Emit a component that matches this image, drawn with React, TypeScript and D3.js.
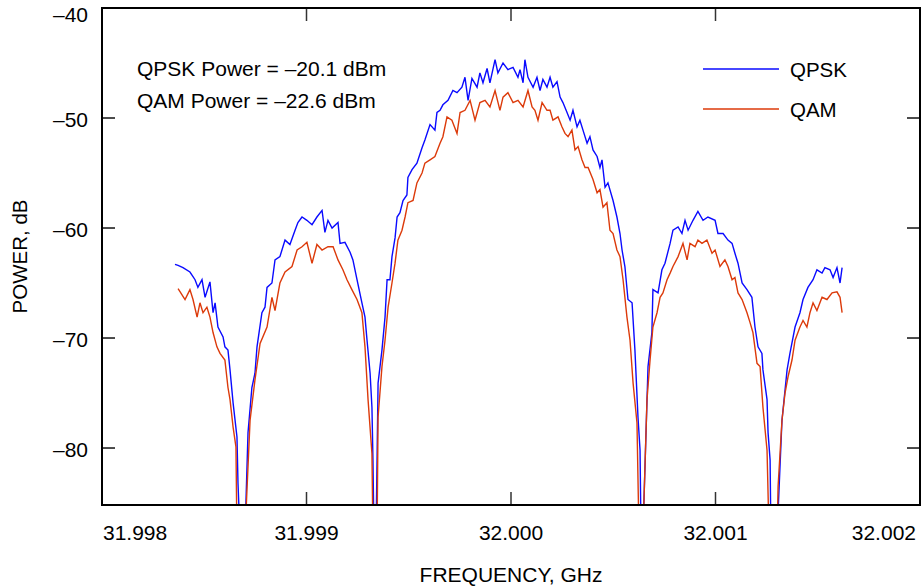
import React from "react";
import * as d3 from "d3";

// Frequency offsets from 32.000 GHz, in kHz, and power in dB
const qpskOffsetKHz = [
  -1643, -1628, -1604, -1570, -1545, -1531, -1511, -1496, -1472, -1457, -1447, -1433, -1408, -1399, -1384, -1374,
  -1359, -1340, -1335, -1325, -1301, -1286, -1267, -1252, -1242, -1218, -1203, -1193, -1169, -1154, -1130, -1105,
  -1081, -1056, -1042, -1022, -998, -973, -949, -924, -910, -895, -875, -846, -836, -812, -787, -773, -753, -729,
  -714, -704, -689, -680, -675, -670, -660, -650, -631, -616, -606, -592, -582, -567, -557, -543, -528, -509, -504,
  -484, -460, -435, -421, -396, -372, -362, -347, -333, -308, -284, -264, -240, -225, -210, -191, -166, -152, -137,
  -117, -103, -78, -64, -39, -15, 10, 34, 44, 59, 68, 83, 108, 127, 142, 156, 176, 191, 205, 225, 240, 254, 274, 289,
  303, 323, 337, 352, 372, 386, 401, 421, 435, 445, 460, 474, 499, 518, 533, 543, 557, 572, 592, 606, 621, 631, 636,
  645, 670, 689, 694, 719, 738, 753, 778, 792, 817, 836, 851, 866, 890, 914, 939, 963, 998, 1012, 1037, 1061, 1081,
  1095, 1110, 1130, 1154, 1178, 1193, 1208, 1227, 1232, 1252, 1257, 1267, 1271, 1301, 1325, 1350, 1364, 1389, 1413,
  1428, 1452, 1477, 1496, 1521, 1535, 1560, 1575, 1594, 1609, 1619,
];
const qpskPower = [
  -63.3, -63.4, -63.6, -64.0, -64.7, -65.4, -64.7, -66.3, -64.9, -67.7, -66.8, -69.0, -69.9, -70.8, -71.1, -72.9,
  -75.9, -79.0, -83.2, -88, -88, -78.6, -74.5, -73.2, -70.8, -67.7, -67.2, -65.4, -65.0, -62.9, -62.6, -61.1,
  -61.5, -60.2, -59.5, -59.0, -59.3, -59.7, -59.0, -58.4, -60.4, -59.3, -60.0, -59.5, -61.4, -61.3, -62.2, -62.9, -64.7, -66.8,
  -68.1, -70.2, -73.2, -76.3, -81.1, -88, -88, -74.1, -71.1, -68.1, -64.7, -64.7, -62.6, -60.9, -59.0, -58.6, -57.5, -57.0, -55.4,
  -54.7, -54.1, -52.7, -52.0, -50.6, -51.1, -49.5, -49.3, -48.8, -48.4, -47.5, -47.7, -47.2, -46.3, -48.4, -46.4, -47.2, -45.9, -46.8,
  -45.5, -46.8, -44.7, -45.9, -45.0, -45.6, -45.4, -46.3, -45.6, -46.8, -44.7, -46.3, -47.2, -46.3, -47.5, -46.5, -47.2, -46.3, -47.2, -46.7, -48.1, -48.6, -49.5, -50.2,
  -49.3, -50.8, -50.2, -51.1, -52.3, -51.7, -52.9, -53.5, -54.5, -53.8, -56.3, -55.9, -57.5, -59.0, -60.5, -62.0, -63.5, -66.5, -66.8, -71.1, -77.2, -80.2, -88,
  -88, -72.6, -69.5, -65.6, -65.9, -63.8, -63.2, -61.4, -60.2, -59.9, -60.5, -59.3, -60.2, -59.3, -58.5, -59.3, -59.0, -59.3, -60.5, -60.5, -61.1, -61.4,
  -62.3, -63.2, -65.0, -65.6, -66.3, -69.0, -70.8, -71.4, -72.9, -75.6, -78.6, -81.1, -88, -88, -77.5, -72.9, -71.4, -69.0, -67.7,
  -66.5, -65.4, -64.7, -63.8, -64.1, -63.6, -63.8, -64.5, -63.6, -65.0, -63.6,
];

const qamOffsetKHz = [
  -1628, -1594, -1570, -1555, -1535, -1521, -1506, -1487, -1472, -1457, -1438, -1423, -1399, -1384, -1374, -1359,
  -1345, -1340, -1301, -1276, -1252, -1227, -1193, -1169, -1154, -1130, -1105, -1071, -1046, -1022, -998, -973, -949,
  -924, -895, -870, -846, -822, -802, -778, -753, -729, -714, -699, -680, -675, -655, -650, -631, -616, -601, -582,
  -567, -553, -533, -518, -504, -479, -460, -435, -421, -396, -372, -347, -333, -313, -289, -264, -249, -225, -200,
  -176, -152, -127, -103, -78, -54, -39, -15, 10, 34, 59, 83, 103, 117, 132, 152, 176, 191, 205, 230, 249, 264, 279,
  298, 313, 328, 347, 362, 377, 401, 421, 435, 450, 469, 484, 499, 518, 533, 548, 567, 582, 597, 616, 626, 645, 665,
  680, 694, 714, 729, 743, 763, 778, 792, 817, 841, 861, 875, 900, 914, 934, 958, 983, 998, 1022, 1046, 1061, 1081,
  1095, 1110, 1130, 1154, 1169, 1183, 1203, 1218, 1232, 1252, 1262, 1301, 1306, 1325, 1340, 1355, 1374, 1389, 1413,
  1428, 1447, 1462, 1477, 1496, 1521, 1545, 1570, 1594, 1609, 1619,
];
const qamPower = [
  -65.5, -66.5, -65.6, -66.5, -68.1, -66.8, -67.7, -67.2, -68.1, -69.5, -70.8, -71.4, -72.0, -74.5, -75.6, -78.1,
  -79.9, -88, -88, -77.5, -73.8, -70.5, -69.0, -66.3, -67.5, -65.0, -64.0, -63.5, -62.0, -61.7, -61.3, -63.2, -61.5,
  -62.0, -61.7, -61.7, -62.9, -63.8, -64.7, -65.6, -66.5, -67.7, -70.8, -75.6, -80.5, -88, -88, -77.2, -72.6, -70.2, -67.2, -65.0,
  -63.2, -61.1, -60.2, -59.0, -57.7, -57.5, -55.9, -55.0, -54.1, -53.8, -53.5, -52.3, -51.7, -49.9, -50.2, -51.4, -49.5, -49.3, -48.4,
  -50.2, -48.6, -48.4, -49.0, -47.5, -49.3, -48.1, -47.7, -48.6, -48.4, -49.0, -47.5, -49.0, -49.3, -50.2, -48.6, -49.3, -49.3, -50.2, -49.9, -50.8, -51.4, -51.7,
  -51.1, -52.9, -52.6, -53.8, -54.5, -54.5, -55.6, -56.8, -56.5, -58.1, -57.7, -60.2, -60.5, -62.0, -62.6, -64.7, -68.1, -70.2, -74.1, -77.7, -88, -88, -75.6,
  -72.0, -69.0, -67.7, -66.3, -65.9, -64.7, -64.1, -63.5, -62.6, -61.4, -62.9, -61.4, -61.7, -61.1, -61.4, -61.1, -62.3, -62.0, -63.5, -62.9, -63.5, -64.7,
  -64.5, -65.9, -66.5, -67.7, -68.6, -69.5, -72.3, -72.6, -76.3, -80.2, -88, -88, -83.5, -77.5, -75.0, -73.5, -72.0, -70.2, -69.0,
  -68.4, -69.0, -67.7, -66.8, -67.5, -66.3, -66.5, -65.9, -65.8, -66.3, -67.7,
];

const CENTER_GHZ = 32.0;
const xTicks = [31.998, 31.999, 32.0, 32.001, 32.002];
const xTickLabels = ["31.998", "31.999", "32.000", "32.001", "32.002"];
const yTicks = [-40, -50, -60, -70, -80];
const yTickLabels = ["\u201340", "\u201350", "\u201360", "\u201370", "\u201380"];
const seriesNames = ["QPSK", "QAM"];
const seriesColors = ["#0a0aff", "#dc3a0a"];
const annotations = ["QPSK Power = \u201320.1 dBm", "QAM Power = \u201322.6 dBm"];

const W = 923;
const H = 587;
const L = 102, R = 920, T = 8, B = 505;
const FONT = "'Liberation Sans', Arial, Helvetica, sans-serif";

export default function App() {
  const x = d3.scaleLinear().domain([31.998, 32.002]).range([L, R]);
  const y = d3.scaleLinear().domain([-85.18, -40]).range([B, T]);
  const line = d3
    .line<[number, number]>()
    .x((d) => x(CENTER_GHZ + d[0] / 1e6))
    .y((d) => y(d[1]))
    .curve(d3.curveLinear);

  const qpsk = qpskOffsetKHz.map((k, i) => [k, qpskPower[i]] as [number, number]);
  const qam = qamOffsetKHz.map((k, i) => [k, qamPower[i]] as [number, number]);
  const series = [qpsk, qam];
  const tickLen = 13;

  return (
    <svg
      width={W}
      height={H}
      style={{ position: "absolute", left: 0, top: 0, background: "#fff" }}
      fontFamily={FONT}
    >
      <defs>
        <clipPath id="plotClip">
          <rect x={L} y={T} width={R - L} height={B - T} />
        </clipPath>
      </defs>
      <rect width={W} height={H} fill="#fff" />

      <g clipPath="url(#plotClip)">
        {series.map((s, i) => (
          <path
            key={i}
            d={line(s) || ""}
            fill="none"
            stroke={seriesColors[i]}
            strokeWidth={1.4}
            strokeLinejoin="miter"
          />
        ))}
      </g>

      {/* ticks */}
      {yTicks.slice(1).map((t) => (
        <g key={"yt" + t}>
          <line x1={L} x2={L + tickLen} y1={y(t)} y2={y(t)} stroke="#111" strokeWidth={1.5} />
          <line x1={R - tickLen} x2={R} y1={y(t)} y2={y(t)} stroke="#111" strokeWidth={1.5} />
        </g>
      ))}
      {xTicks.slice(1, -1).map((t) => (
        <g key={"xt" + t}>
          <line x1={x(t)} x2={x(t)} y1={B} y2={B - tickLen} stroke="#333" strokeWidth={1.5} />
          <line x1={x(t)} x2={x(t)} y1={T} y2={T + tickLen} stroke="#333" strokeWidth={1.5} />
        </g>
      ))}

      <rect x={L} y={T} width={R - L} height={B - T} fill="none" stroke="#000" strokeWidth={2} />

      {/* y tick labels */}
      {yTicks.map((t, i) => (
        <text
          key={"yl" + t}
          x={88}
          y={i === 0 ? 22 : y(t) + 9}
          textAnchor="end"
          fontSize={21}
          fill="#000"
        >
          {yTickLabels[i]}
        </text>
      ))}

      {/* x tick labels */}
      {xTicks.map((t, i) => (
        <text
          key={"xl" + t}
          x={i === 0 ? L + 1 : i === xTicks.length - 1 ? 916 : x(t)}
          y={540}
          textAnchor={i === 0 ? "start" : i === xTicks.length - 1 ? "end" : "middle"}
          fontSize={21}
          fill="#000"
        >
          {xTickLabels[i]}
        </text>
      ))}

      {/* axis titles */}
      <text x={(L + R) / 2} y={582} textAnchor="middle" fontSize={21} fill="#000">
        FREQUENCY, GHz
      </text>
      <text
        transform={`translate(27, ${(T + B) / 2}) rotate(-90)`}
        textAnchor="middle"
        fontSize={20.5}
        fill="#000"
      >
        POWER, dB
      </text>

      {/* annotations */}
      {annotations.map((a, i) => (
        <text key={"an" + i} x={137} y={76 + i * 32} fontSize={21} fill="#000">
          {a}
        </text>
      ))}

      {/* legend */}
      {seriesNames.map((n, i) => (
        <g key={"lg" + n}>
          <line x1={703} x2={779} y1={69 + i * 40} y2={69 + i * 40} stroke={seriesColors[i]} strokeWidth={1.4} />
          <text x={790} y={77 + i * 40} fontSize={20.5} fill="#000">
            {n}
          </text>
        </g>
      ))}
    </svg>
  );
}
